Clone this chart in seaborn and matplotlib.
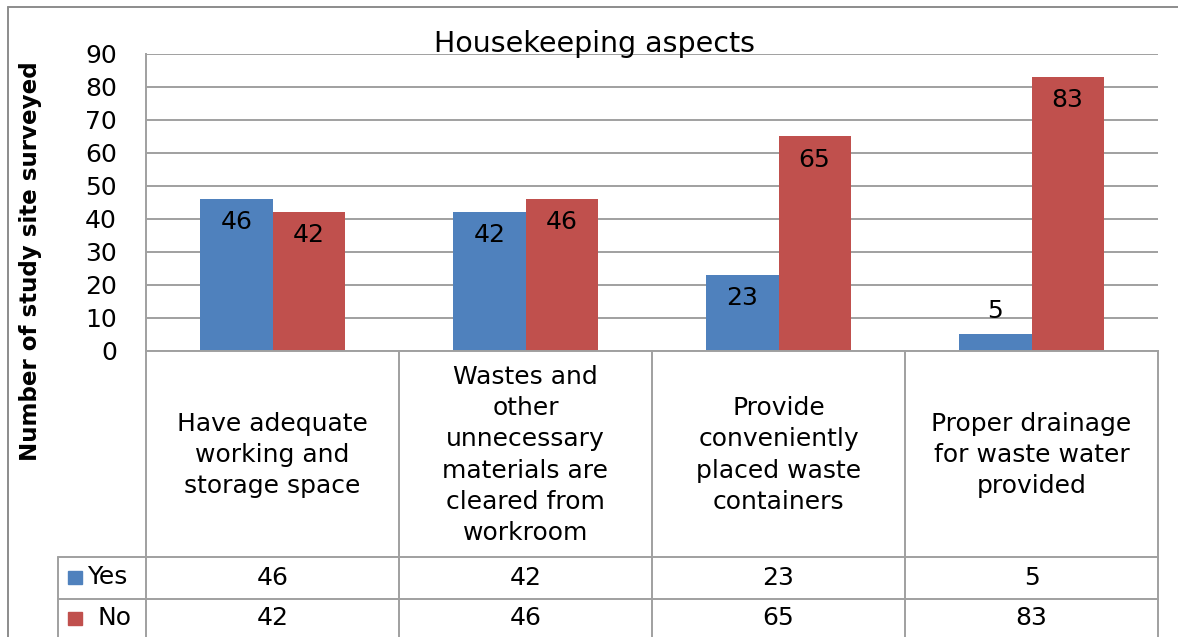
import pandas as pd
import matplotlib.pyplot as plt
import matplotlib.transforms as mtransforms
from matplotlib.lines import Line2D
from matplotlib.patches import Rectangle
import seaborn as sns

# data
categories = ["Have adequate\nworking and\nstorage space",
              "Wastes and\nother\nunnecessary\nmaterials are\ncleared from\nworkroom",
              "Provide\nconveniently\nplaced waste\ncontainers",
              "Proper drainage\nfor waste water\nprovided"]
series = ["Yes", "No"]
yes_counts = [46, 42, 23, 5]
no_counts = [42, 46, 65, 83]
colors = ["#4F81BD", "#C0504D"]
yticks = list(range(0, 100, 10))

df = pd.DataFrame({
    "aspect": categories * 2,
    "count": yes_counts + no_counts,
    "answer": ["Yes"] * len(categories) + ["No"] * len(categories),
})

sns.set_style("white")
plt.rcParams['font.family'] = ['DejaVu Sans']
plt.rcParams['text.color'] = 'black'

W, H = 1178, 637
grid_col = "#a0a0a0"
fs = 18


def fx(px):
    return px / W


def fy(px):
    return 1 - px / H


fig = plt.figure(figsize=(W / 100, H / 100), dpi=100)
ax = fig.add_axes([fx(146), fy(351), fx(1158 - 146), (351 - 54) / H])

sns.barplot(data=df, x="aspect", y="count", hue="answer", hue_order=series,
            palette=colors, width=0.57, saturation=1, legend=False,
            linewidth=0, ax=ax)

ax.set_ylim(0, 90)
ax.set_xlim(-0.5, len(categories) - 0.5)
ax.set_yticks(yticks)
ax.yaxis.grid(True, color=grid_col, lw=1.4)
ax.set_axisbelow(True)
for s in ["top", "right"]:
    ax.spines[s].set_visible(False)
for s in ["left", "bottom"]:
    ax.spines[s].set_color(grid_col)
    ax.spines[s].set_linewidth(1.4)
ax.tick_params(axis="y", length=0, labelsize=fs, pad=21, labelcolor="black")
ax.tick_params(axis="x", length=0, labelbottom=False)
ax.set_xlabel("")
ax.set_ylabel("Number of study site surveyed", fontsize=16.6, fontweight="bold",
              color="black")
ax.yaxis.label.set_va("center")
ax.yaxis.set_label_coords((31 - 146) / (1158 - 146), (351 - 261) / (351 - 54))

# value labels on the bars
for cont in ax.containers:
    for bar in cont:
        v = bar.get_height()
        y = v - 7 if v > 15 else v + 7
        ax.text(bar.get_x() + bar.get_width() / 2, y, f"{v:.0f}",
                ha="center", va="center", fontsize=fs)

fig.text(fx(595), fy(52), "Housekeeping aspects", ha="center", va="baseline",
         fontsize=20.5)

# data table under the plot
blend = mtransforms.blended_transform_factory(ax.transData, fig.transFigure)
n = len(categories)
for i in range(n + 1):
    xe = i - 0.5
    fig.add_artist(Line2D([xe, xe], [fy(351), fy(640)], transform=blend,
                          color=grid_col, lw=1.4))
fig.add_artist(Line2D([fx(58), fx(58)], [fy(557), fy(640)], color=grid_col, lw=1.4))
for yl in [557, 599]:
    fig.add_artist(Line2D([fx(58), fx(1158)], [fy(yl), fy(yl)], color=grid_col, lw=1.4))

for i, cat in enumerate(categories):
    fig.text(i, fy(455), cat, transform=blend, ha="center", va="center",
             fontsize=fs, linespacing=1.37)
    fig.text(i, fy(578), str(yes_counts[i]), transform=blend, ha="center",
             va="center", fontsize=fs)
    fig.text(i, fy(618), str(no_counts[i]), transform=blend, ha="center",
             va="center", fontsize=fs)

# legend keys in the table
for name, col, ypx, xt in zip(series, colors, [577, 618], [87, 97]):
    fig.add_artist(Rectangle((fx(68), fy(ypx + 7)), fx(14), 13 / H,
                             transform=fig.transFigure, color=col))
    fig.text(fx(xt), fy(ypx), name, ha="left", va="center", fontsize=fs)

# outer chart border (runs off the picture at right and bottom)
fig.add_artist(Line2D([fx(8), fx(1178)], [fy(7), fy(7)], color="#8c8c8c", lw=1.4))
fig.add_artist(Line2D([fx(8), fx(8)], [fy(7), fy(637)], color="#8c8c8c", lw=1.4))

fig.savefig("out.png", dpi=100)
